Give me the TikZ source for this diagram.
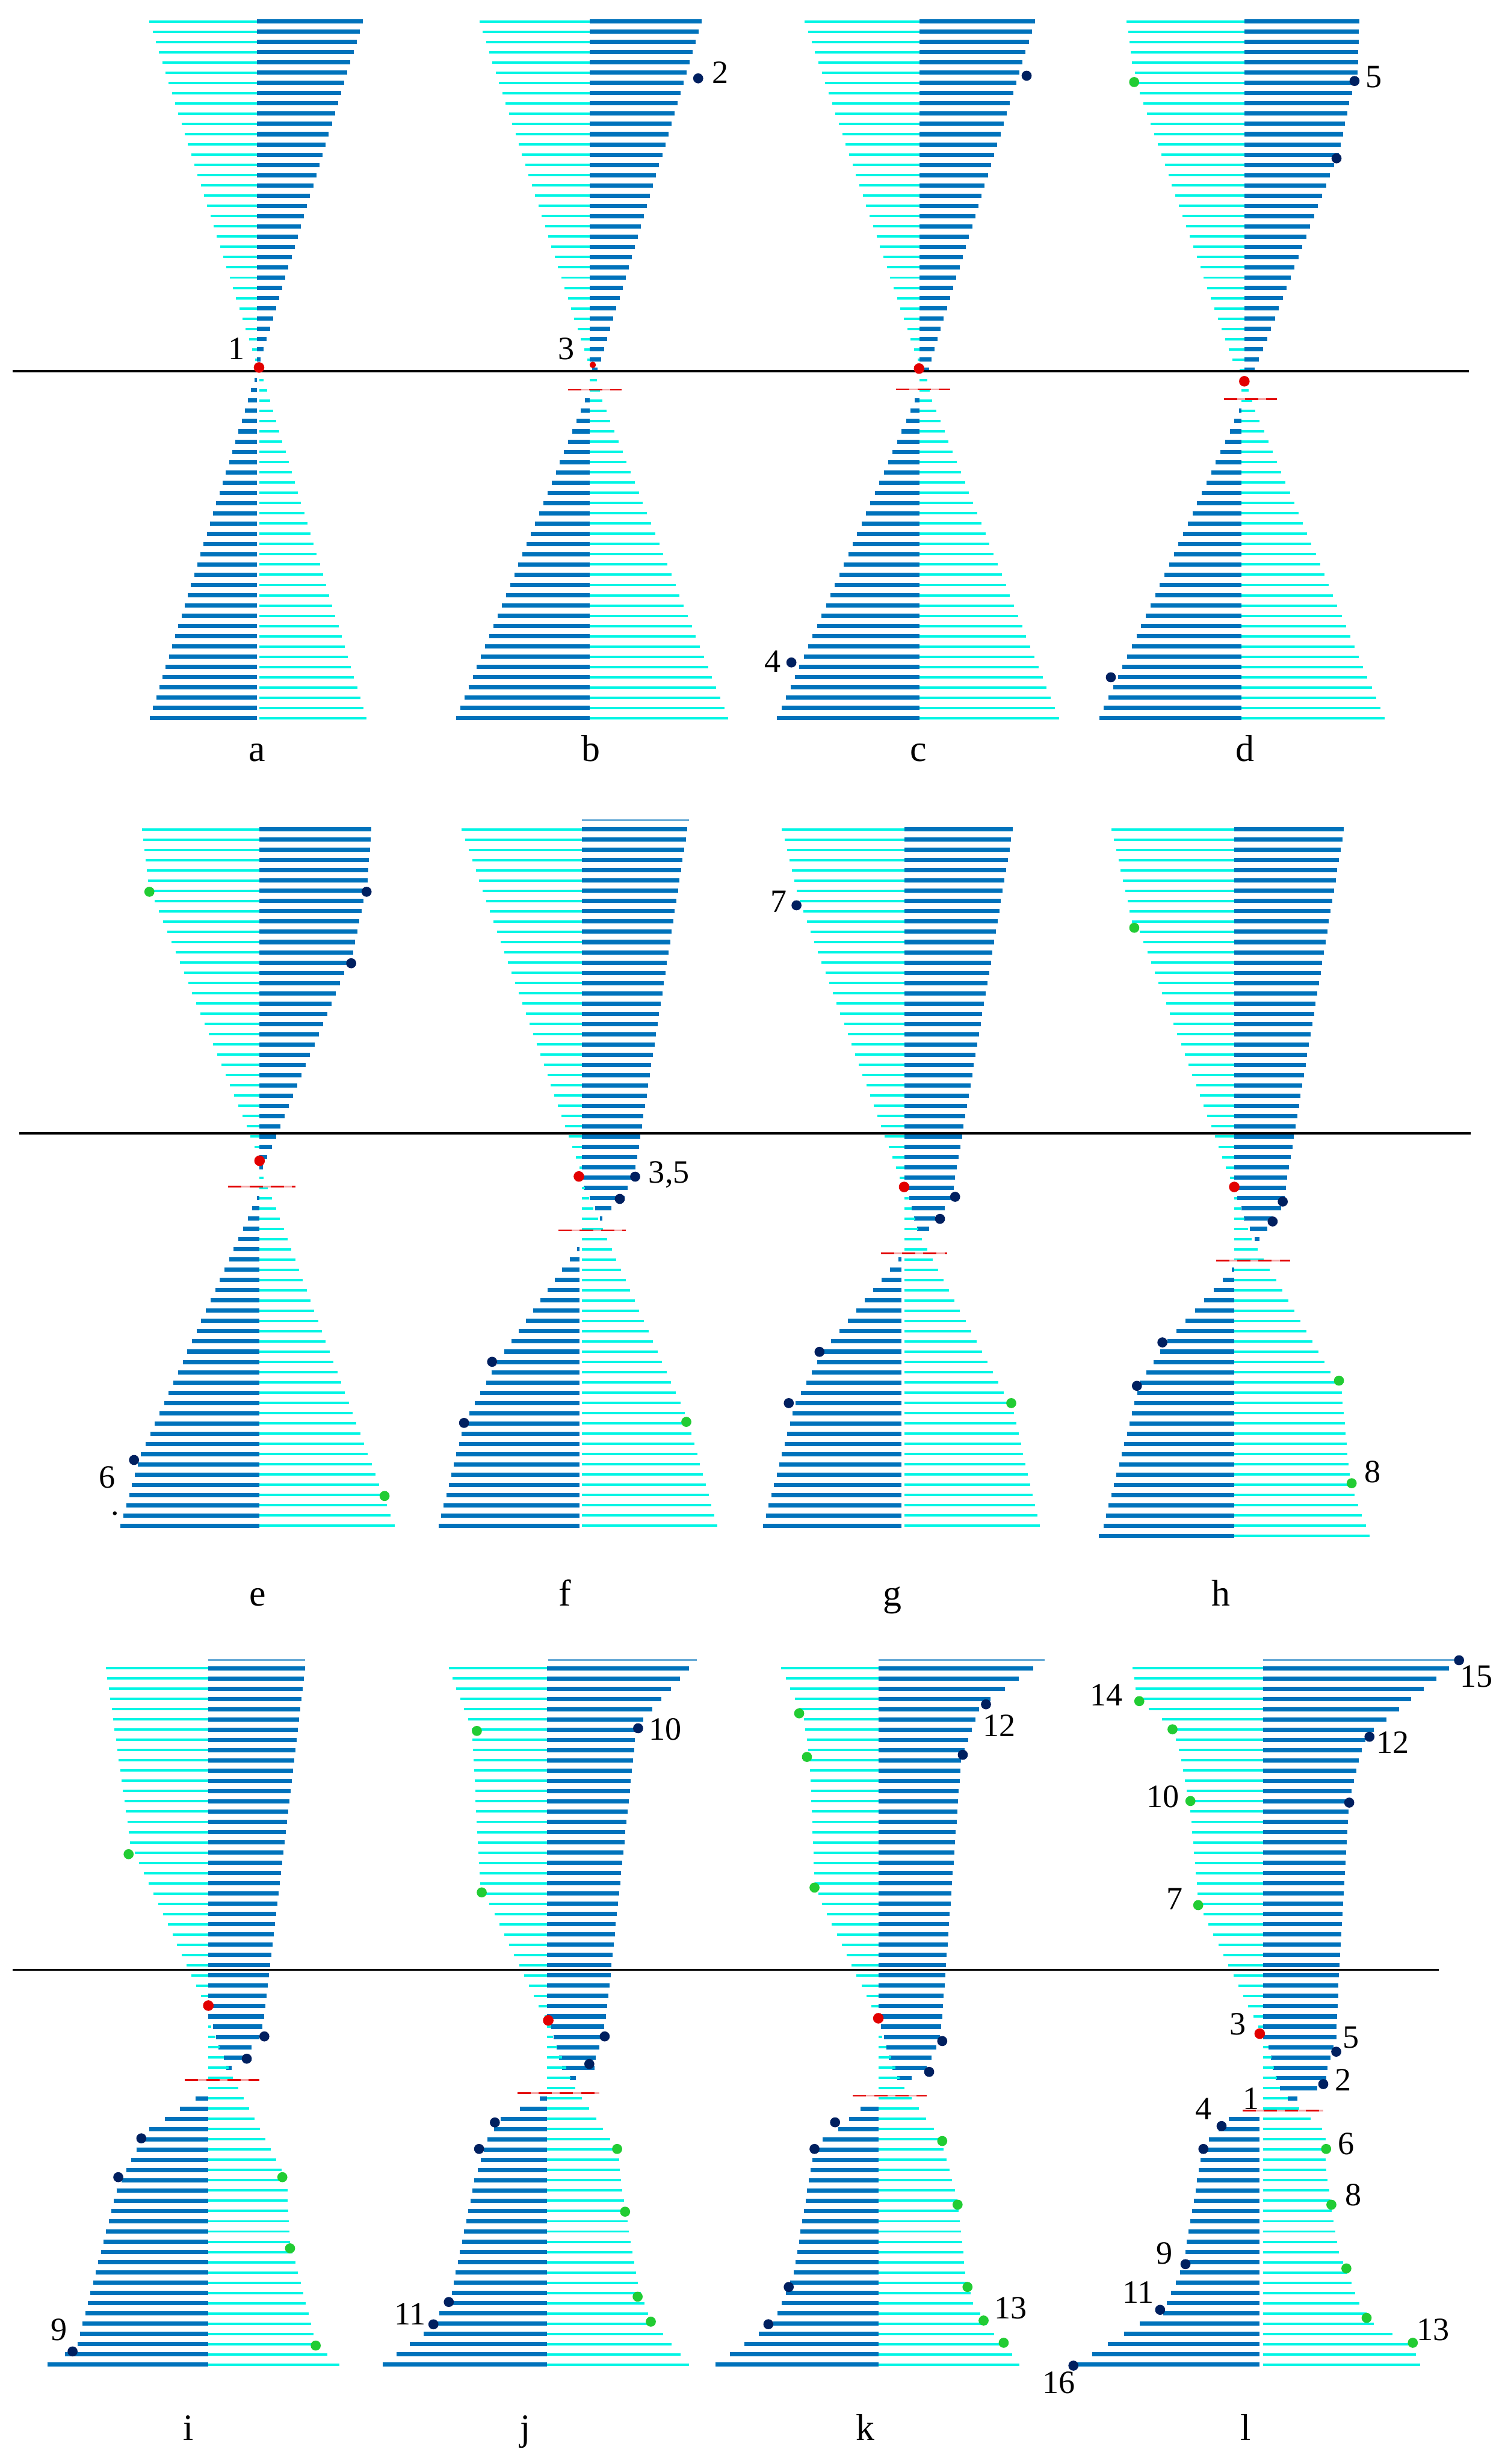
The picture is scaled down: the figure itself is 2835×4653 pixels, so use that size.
\documentclass[tikz,border=0pt]{standalone}
\usepackage{fontspec}
\setmainfont{Liberation Serif}
\definecolor{dk}{RGB}{0,114,187}
\definecolor{cy}{RGB}{0,245,228}
\definecolor{nv}{RGB}{0,32,96}
\definecolor{gn}{RGB}{34,204,51}
\definecolor{rd}{RGB}{226,0,0}
\tikzset{
  dkS/.style={draw=dk, line width=0.8mm},
  cyS/.style={draw=cy, line width=0.45mm},
  dkT/.style={draw=dk!60, line width=0.35mm},
  lbl/.style={font=\fontsize{17.5}{18}\selectfont, inner sep=0pt},
  plbl/.style={font=\fontsize{20}{22}\selectfont, inner sep=0pt, anchor=base},
  axis line/.style={draw=black, line width=0.4mm}
}
\def\bNone{X}
\newcommand\band[4]{%
  \foreach \bk/\bxa/\bxb [remember=\bk as \pbk (initially X),
      remember=\bxa as \pbxa (initially 0),
      remember=\bxb as \pbxb (initially 0)] in {#4}{%
    \ifx\pbk\bNone\else
      \pgfmathtruncatemacro\kA{ceil(\pbk-0.01)}%
      \pgfmathtruncatemacro\kB{floor(\bk+0.01)}%
      \ifnum\kA>\kB\else
        \foreach \kk in {\kA,...,\kB}{%
          \pgfmathsetmacro\zT{(\kk-\pbk)/(\bk-\pbk)}%
          \pgfmathsetmacro\zA{\pbxa+(\bxa-\pbxa)*\zT}%
          \pgfmathsetmacro\zB{\pbxb+(\bxb-\pbxb)*\zT}%
          \pgfmathsetmacro\zY{#2+\kk*#3}%
          \draw[#1] (\zA,\zY) -- (\zB,\zY);
        }%
      \fi
    \fi
  }}
\newcommand\bandA[2]{\band{#1}{40.5}{19.35}{#2}}
\newcommand\bandB[2]{\band{#1}{1566.2}{19.34}{#2}}
\newcommand\bandC[2]{\band{#1}{3150.2}{19.34}{#2}}
\newcommand\dotN[2]{\fill[nv] (#1,#2) circle[radius=0.95mm];}
\newcommand\dotG[2]{\fill[gn] (#1,#2) circle[radius=0.95mm];}
\newcommand\dotR[2]{\fill[rd] (#1,#2) circle[radius=1mm];}
\newcommand\rdash[3]{\draw[rd!35, line width=0.3mm] (#2,#1)--(#3,#1);
  \draw[rd, line width=0.3mm, dash pattern=on 2.5mm off 1.5mm] (#2,#1)--(#3,#1);}
\begin{document}
\begin{tikzpicture}[x=0.1mm, y=-0.1mm]
\fill[white] (0,0) rectangle (2835,4653);
\useasboundingbox (0,0) rectangle (2835,4653);

% ================= ROW 1 =================
% a
\bandA{cyS}{0/282/485, 33/482/485}
\bandA{dkS}{0/485/685, 33/485/492}
\bandA{dkS}{35/480/485, 68/283/485}
\bandA{cyS}{35/490/498, 68/490/692}
% b
\bandA{cyS}{0/905/1113, 33/1109/1113}
\bandA{dkS}{0/1113/1325, 33/1113/1135, 34/1118/1128}
\bandA{dkS}{37/1104/1113, 68/861/1113}
\bandA{cyS}{35/1113/1127, 37/1113/1137, 68/1113/1375}
% c
\bandA{cyS}{0/1519/1736, 33/1732/1736}
\bandA{dkS}{0/1736/1954, 33/1736/1758, 34/1743/1754}
\bandA{dkS}{37/1727/1736, 68/1467/1736}
\bandA{cyS}{35/1736/1750, 37/1736/1760, 68/1736/1999}
% d
\bandA{cyS}{0/2127/2349, 4/2137/2349, 7/2152/2349, 33/2326/2349, 34/2340/2349}
\bandA{dkS}{0/2349/2566, 5/2349/2563, 8/2349/2547, 13/2349/2527, 14/2349/2518, 33/2349/2377, 34/2349/2368}
\bandA{dkS}{38/2339/2344, 68/2075/2344}
\bandA{cyS}{36/2344/2357, 38/2344/2370, 68/2344/2614}

% ================= ROW 2 =================
% e
\bandB{cyS}{0/268/490, 5/280/490, 7/292/490, 31/481/490, 32/485/490}
\bandB{dkS}{0/490/701, 5/490/694, 7/490/686, 13/490/663, 14/490/650, 31/490/513, 32/490/504, 33/490/496}
\bandB{dkS}{36/485/490, 61/266/490, 68/227/490}
\bandB{cyS}{34/490/498, 36/490/514, 68/490/745}
% f
\draw[dkT] (1098.5,1549) -- (1300.6,1549);
\bandB{cyS}{0/871/1098.5, 33/1094/1098.5}
\bandB{dkS}{0/1098.5/1297.5, 33/1098.5/1200, 34/1098.5/1205, 35/1102/1185, 36/1113/1179, 37/1123/1154, 38/1132/1137}
\bandB{cyS}{35/1098.5/1104, 36/1098.5/1112, 57/1098.5/1293, 58/1098.5/1300, 68/1098.5/1354}
\bandB{dkS}{41/1089/1093.5, 52/938/1093.5, 58/876/1093.5, 68/828/1093.5}
% g
\bandB{cyS}{0/1476/1707.6, 6/1504.5/1707.6, 8/1516/1707.6, 34/1698.5/1707.6}
\bandB{dkS}{0/1707.6/1912, 35/1707.6/1800, 36/1717/1797, 37/1721/1783.5, 38/1726/1765, 39/1731.7/1754.5}
\bandB{cyS}{36/1707/1715, 40/1707/1740, 55/1707/1895, 57/1707/1914, 68/1707/1962.6}
\bandB{dkS}{42/1696/1701.8, 51/1553/1701.8, 56/1501.6/1701.8, 68/1440.6/1701.8}
% h
\bandB{cyS}{0/2098.5/2330.3, 9/2137/2330.3, 10/2151.6/2330.3, 34/2321.6/2330.3}
\bandB{dkS}{0/2330.3/2537, 35/2330.3/2427, 36/2336/2425, 37/2344/2419, 38/2348.5/2402, 39/2359/2392, 40/2369/2377.5}
\bandB{cyS}{36/2330.3/2336, 40/2330.3/2363, 53/2330.3/2512, 54/2330.3/2531, 63/2330.3/2547.5, 65/2330.3/2556.6, 69/2330.3/2585.7}
\bandB{dkS}{43/2325.7/2330.3, 50/2203.4/2330.3, 54/2151.6/2330.3, 68/2083/2330.3, 69/2074/2330.3}

% ================= ROW 3 =================
% i
\draw[dkT] (393,3135.2) -- (576.5,3135.2);
\bandC{cyS}{0/200/393, 17/245.7/393, 19/262.3/393, 32/379.6/393, 33/386/393}
\bandC{dkS}{0/393/576, 34/393/498.6, 35/402.4/495.7, 36/407.4/489.5, 37/412.8/475, 38/422.3/472.9, 39/427.3/437.6}
\bandC{cyS}{35/393/398.3, 40/393/439.7, 49/393/531.8, 51/393/542.5, 56/393/547.5, 66/393/597.3, 67/393/618, 68/393/640.8}
\bandC{dkS}{42/369.2/393, 45/282.2/393, 47/257.3/393, 51/220/393, 66/146.2/393, 67/122.6/393, 68/89.4/393}
% j
\draw[dkT] (1035,3135.2) -- (1315.7,3135.2);
\bandC{cyS}{0/847/1033, 6/890.7/1033, 22/907.3/1033, 23/924/1033, 33/1017/1033, 34/1028/1033}
\bandC{dkS}{0/1033/1301, 5/1033/1214, 6/1033/1201, 34/1033/1144.4, 35/1040/1140.3, 36/1045/1140.3, 37/1050.3/1131.2, 38/1055.7/1125, 39/1060.7/1122, 40/1075.2/1087.6}
\bandC{cyS}{35/1033/1040, 36/1033/1044, 41/1033/1085.6, 46/1033/1151.9, 47/1033/1166.4, 51/1033/1174.7, 60/1033/1203.7, 63/1033/1223.2, 64/1033/1234.8, 68/1033/1301.2}
\bandC{dkS}{42/1019/1033, 43/982/1033, 44/944.6/1033, 46/919.7/1033, 50/895.7/1033, 61/852.6/1033, 63/829.4/1033, 65/799.5/1033, 68/722.8/1033}
% k
\draw[dkT] (1659,3135.2) -- (1971.5,3135.2);
\bandC{cyS}{0/1475/1659, 5/1517.5/1659, 9/1528.7/1659, 21/1537.6/1659, 23/1551.9/1659, 33/1644.7/1659, 34/1652/1659}
\bandC{dkS}{0/1659/1950.5, 3/1659/1870, 4/1659/1848, 8/1659/1821, 9/1659/1814.4, 34/1659/1778.7, 35/1662.6/1776.4, 36/1668.4/1774, 37/1672.9/1767.5, 38/1678.2/1758.6, 39/1684.9/1749.6, 40/1693.8/1720.6}
\bandC{cyS}{36/1659/1665, 41/1659/1707.2, 46/1659/1776.4, 52/1659/1807.7, 59/1659/1822.4, 62/1659/1836.7, 65/1659/1876.9, 67/1659/1910.4, 68/1659/1923.8}
\bandC{dkS}{43/1624.6/1659, 45/1582.2/1659, 46/1553.2/1659, 48/1533.1/1659, 59/1498.8/1659, 61/1484/1659, 64/1459.5/1659, 65/1432.7/1659, 68/1350.1/1659}
% l
\draw[dkT] (2384.6,3135.2) -- (2754.3,3135.2);
\bandC{cyS}{0/2138/2384, 3/2146.3/2384, 4/2168/2384, 5/2193.7/2384, 7/2219.9/2384, 9/2229.7/2384, 14/2247.2/2384, 22/2260.8/2384, 24/2271.7/2384, 35/2375.3/2384}
\bandC{dkS}{0/2384/2735, 6/2384/2593.4, 7/2384/2577, 9/2384/2564.5, 13/2384/2547, 35/2384/2522.5, 36/2384.6/2522.5, 37/2394.4/2517.1, 38/2398.7/2511.6, 39/2402.6/2506.2, 40/2408/2503.4, 41/2416.2/2487.1, 42/2431.5/2449}
\bandC{cyS}{37/2384/2394.4, 41/2384/2416, 42/2384/2431, 45/2384/2495.3, 46/2384/2502.4, 49/2384/2503.4, 54/2384/2517.1, 57/2384/2528, 62/2384/2566.2, 64/2384/2593.4, 65/2384/2628.8, 66/2384/2672.5, 67/2384/2672.5, 68/2384/2680.7}
\bandC{dkS}{44/2319.1/2378, 46/2282.6/2378, 48/2266.3/2378, 57/2237.4/2378, 59/2228.1/2378, 62/2202.5/2378, 63/2195.4/2378, 64/2151.8/2378, 68/2031.8/2378}

% ================= red dashed waists =================
\rdash{736}{1072}{1173}
\rdash{735}{1692}{1794}
\rdash{754}{2310}{2411}
\rdash{2241}{431}{558}
\rdash{2323}{1054.5}{1181}
\rdash{2367}{1663}{1788}
\rdash{2380.8}{2295.8}{2435.6}
\rdash{3927.7}{349.3}{489.5}
\rdash{3952.8}{977}{1131}
\rdash{3957.8}{1610}{1749.6}
\rdash{3985.9}{2345.3}{2498}

% ================= black lines =================
\draw[axis line] (24,701) -- (2773,701);
\draw[axis line] (36,2140) -- (2776,2140);
\draw[axis line] (24,3720) -- (2716,3720);

% ================= dots =================
\dotR{489}{694}
\dotN{1318}{148} \fill[rd] (1119,689) circle[radius=0.6mm];
\dotN{1938}{143} \dotN{1494}{1251} \dotR{1735}{696}
\dotG{2141}{155} \dotN{2557}{153} \dotN{2523}{299} \dotN{2097}{1279} \dotR{2349}{720}
\dotG{282}{1684} \dotN{692}{1684} \dotN{663}{1819} \dotN{253}{2757} \dotG{726}{2825} \dotR{490}{2192}
\dotR{1092.8}{2221.6} \dotN{1199}{2222} \dotN{1170}{2264} \dotN{929}{2571.6} \dotN{876}{2687} \dotG{1295.6}{2685}
\dotN{1503.6}{1709.6} \dotR{1706.8}{2241.4} \dotN{1803}{2260} \dotN{1774.4}{2301.7} \dotN{1547}{2552.8} \dotN{1489}{2649.6} \dotG{1909}{2649.6}
\dotG{2141.2}{1752} \dotR{2330}{2241.4} \dotN{2421.5}{2269} \dotN{2402.4}{2306.6} \dotN{2194.3}{2535} \dotN{2146.2}{2617} \dotG{2527.6}{2607.2} \dotG{2551.6}{2800.9}
\dotG{242.8}{3501.4} \dotR{393.3}{3787.3} \dotN{499}{3845.5} \dotN{465.8}{3887.6} \dotN{266.8}{4038} \dotN{223.3}{4111.3} \dotN{137}{4440.4} \dotG{533}{4111.3} \dotG{547.5}{4245.7} \dotG{596}{4429.3}
\dotG{900.2}{3268.6} \dotG{909.4}{3573.6} \dotN{1204.6}{3263.6} \dotR{1035}{3815.3} \dotN{1141.5}{3845.5} \dotN{1112.5}{3897.6} \dotN{934.2}{4008} \dotN{904.4}{4058} \dotN{847.2}{4347} \dotN{818.2}{4389.2} \dotG{1165}{4058} \dotG{1180}{4176.5} \dotG{1203.7}{4337} \dotG{1228.6}{4384.2}
\dotG{1508.6}{3235.5} \dotG{1523.3}{3317.7} \dotG{1537.6}{3564.5} \dotN{1861.3}{3218.4} \dotN{1817.5}{3313.7} \dotR{1658.1}{3811.2} \dotN{1778.7}{3854.3} \dotN{1754}{3912.5} \dotN{1576.4}{4007.8} \dotN{1537.6}{4058} \dotN{1488.9}{4318.7} \dotN{1450.5}{4389} \dotG{1778.7}{4043} \dotG{1807.7}{4163.2} \dotG{1826.4}{4318.7} \dotG{1856.8}{4382} \dotG{1894.7}{4424}
\dotN{2754.3}{3135.2} \dotG{2150.7}{3212.4} \dotG{2213.4}{3265.6} \dotN{2585.2}{3279.6} \dotG{2247.2}{3401} \dotN{2547}{3404} \dotG{2261.9}{3597.6} \dotR{2378}{3840.3} \dotN{2522.5}{3874.4} \dotN{2498}{3935.6} \dotN{2306}{4014.8} \dotN{2271.7}{4058} \dotG{2503.4}{4058} \dotG{2513.3}{4163.3} \dotN{2237.9}{4275.6} \dotG{2541.6}{4283.6} \dotN{2190}{4361.8} \dotG{2579.8}{4377} \dotG{2667}{4424} \dotN{2026.3}{4467.2}

% ================= number labels =================
\node[lbl] (a-1) at (446,658) {1};
\node[lbl] (b-2) at (1360,137) {2};
\node[lbl] (b-3) at (1069,659) {3};
\node[lbl] (c-4) at (1459,1249) {4};
\node[lbl] (d-5) at (2594,146) {5};
\node[lbl] (e-6) at (202,2790) {6};
\node[lbl] (e-pt) at (217,2858) {.};
\node[lbl] (f-35) at (1263,2218) {3,5};
\node[lbl] (g-7) at (1470.5,1702.6) {7};
\node[lbl] (h-8) at (2591,2780) {8};
\node[lbl] (i-9) at (111.4,4399.2) {9};
\node[lbl] (j-10) at (1255.6,3265.6) {10};
\node[lbl] (j-11) at (773.8,4369.1) {11};
\node[lbl] (k-12) at (1885.8,3258.5) {12};
\node[lbl] (k-13) at (1908.1,4358.8) {13};
\node[lbl] (l-15) at (2787,3165.3) {15};
\node[lbl] (l-14) at (2089,3200.4) {14};
\node[lbl] (l-12) at (2628.8,3290.6) {12};
\node[lbl] (l-10) at (2195.4,3393) {10};
\node[lbl] (l-7) at (2217.2,3586.5) {7};
\node[lbl] (l-3) at (2337,3822.2) {3};
\node[lbl] (l-5) at (2549.8,3847.3) {5};
\node[lbl] (l-2) at (2535,3927.6) {2};
\node[lbl] (l-1) at (2361.7,3962.6) {1};
\node[lbl] (l-4) at (2271.7,3982.7) {4};
\node[lbl] (l-6) at (2541.6,4047.9) {6};
\node[lbl] (l-8) at (2555.2,4145.2) {8};
\node[lbl] (l-9) at (2198,4255.6) {9};
\node[lbl] (l-11) at (2149,4328.8) {11};
\node[lbl] (l-13) at (2705.2,4399) {13};
\node[lbl] (l-16) at (1999,4499.3) {16};

% ================= panel letters =================
\node[plbl] (pa) at (485,1438) {a};
\node[plbl] (pb) at (1116,1438) {b};
\node[plbl] (pc) at (1734,1438) {c};
\node[plbl] (pd) at (2350,1438) {d};
\node[plbl] (pe) at (487,3032) {e};
\node[plbl] (pf) at (1066,3032) {f};
\node[plbl] (pg) at (1685,3032) {g};
\node[plbl] (ph) at (2305,3032) {h};
\node[plbl] (pi) at (356,4608) {i};
\node[plbl] (pj) at (992,4608) {j};
\node[plbl] (pk) at (1634,4608) {k};
\node[plbl] (pl) at (2351,4608) {l};
\end{tikzpicture}
\end{document}
